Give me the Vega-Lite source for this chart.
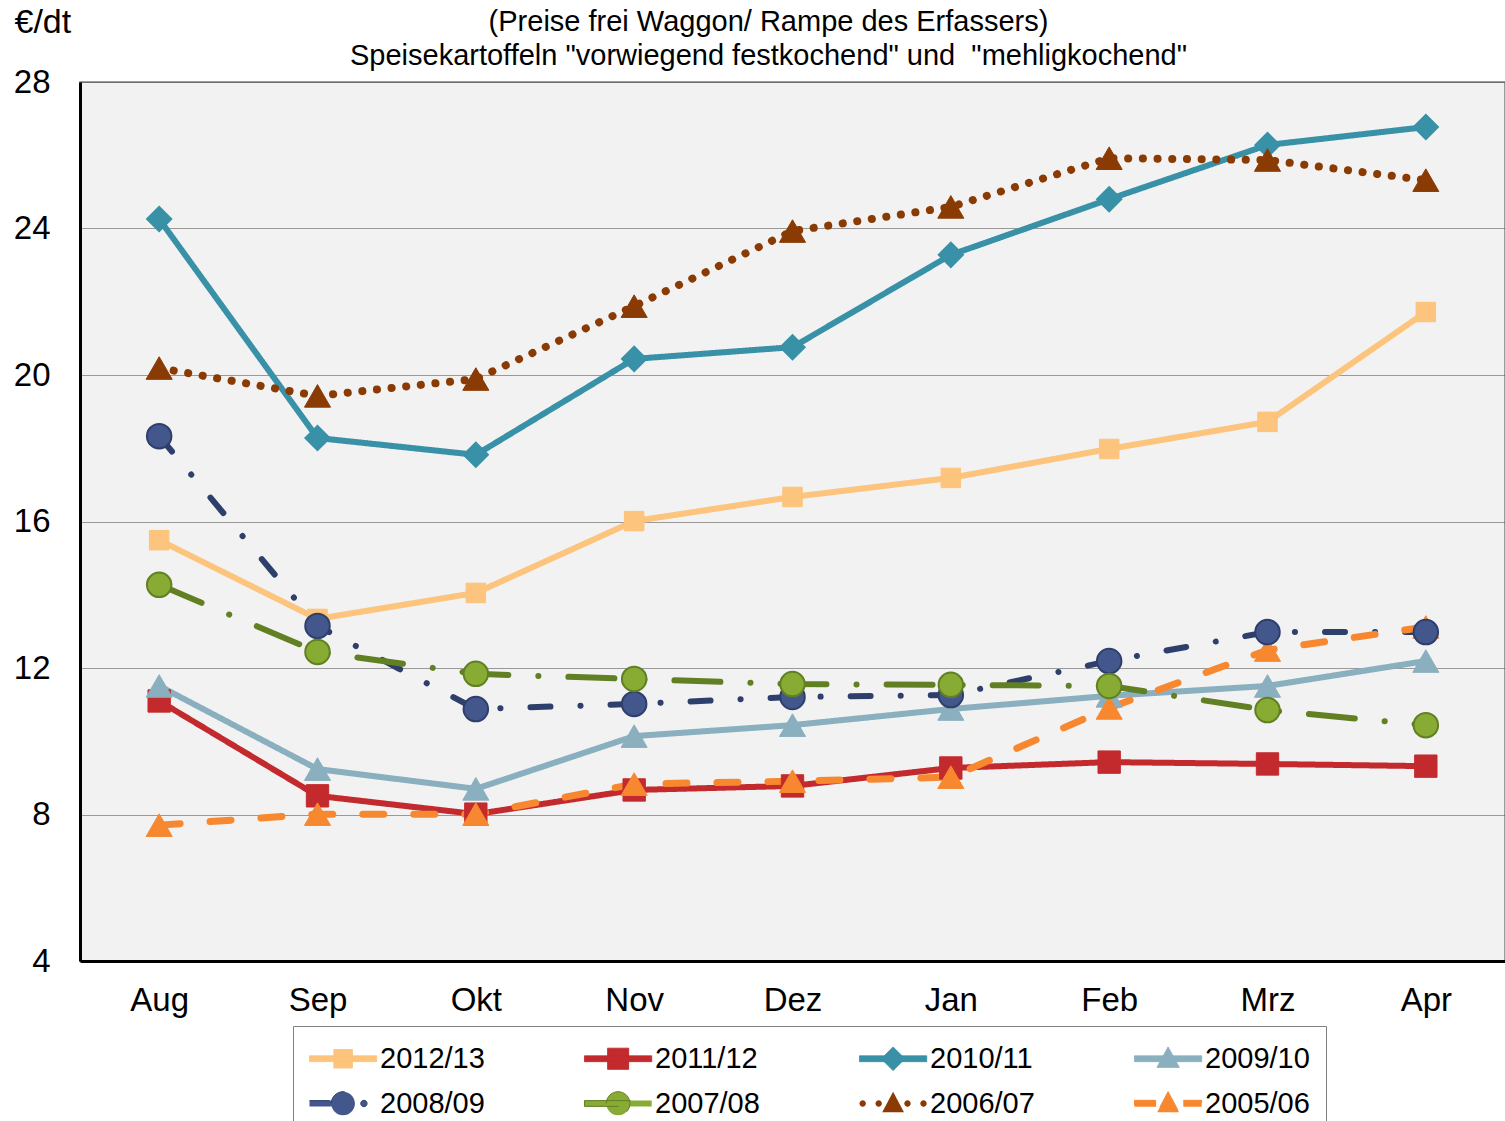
{
  "$schema": "https://vega.github.io/schema/vega-lite/v6.json",
  "width": 1425,
  "height": 879,
  "autosize": {"type": "none"},
  "padding": {"left": 80, "top": 82, "right": 0, "bottom": 160},
  "background": "white",
  "title": {
    "text": ["(Preise frei Waggon/ Rampe des Erfassers)", "Speisekartoffeln \"vorwiegend festkochend\" und \u00a0\"mehligkochend\""],
    "fontSize": 29,
    "font": "Liberation Sans",
    "fontWeight": "normal",
    "color": "black",
    "lineHeight": 34,
    "anchor": "middle",
    "frame": "group",
    "offset": 0,
    "dx": -24,
    "dy": 66
  },
  "config": {
    "view": {"fill": "#F2F2F2", "stroke": "#7F7F7F", "strokeWidth": 1.5},
    "font": "Liberation Sans"
  },
  "data": {
    "values": [
      {"m": "Aug", "s": "2012/13", "v": 15.49}, {"m": "Sep", "s": "2012/13", "v": 13.34}, {"m": "Okt", "s": "2012/13", "v": 14.05},
      {"m": "Nov", "s": "2012/13", "v": 16.01}, {"m": "Dez", "s": "2012/13", "v": 16.67}, {"m": "Jan", "s": "2012/13", "v": 17.19},
      {"m": "Feb", "s": "2012/13", "v": 17.98}, {"m": "Mrz", "s": "2012/13", "v": 18.72}, {"m": "Apr", "s": "2012/13", "v": 21.72},
      {"m": "Aug", "s": "2011/12", "v": 11.10}, {"m": "Sep", "s": "2011/12", "v": 8.51}, {"m": "Okt", "s": "2011/12", "v": 8.01},
      {"m": "Nov", "s": "2011/12", "v": 8.67}, {"m": "Dez", "s": "2011/12", "v": 8.78}, {"m": "Jan", "s": "2011/12", "v": 9.27},
      {"m": "Feb", "s": "2011/12", "v": 9.43}, {"m": "Mrz", "s": "2011/12", "v": 9.38}, {"m": "Apr", "s": "2011/12", "v": 9.32},
      {"m": "Aug", "s": "2010/11", "v": 24.26}, {"m": "Sep", "s": "2010/11", "v": 18.28}, {"m": "Okt", "s": "2010/11", "v": 17.82},
      {"m": "Nov", "s": "2010/11", "v": 20.44}, {"m": "Dez", "s": "2010/11", "v": 20.76}, {"m": "Jan", "s": "2010/11", "v": 23.28},
      {"m": "Feb", "s": "2010/11", "v": 24.80}, {"m": "Mrz", "s": "2010/11", "v": 26.28}, {"m": "Apr", "s": "2010/11", "v": 26.77},
      {"m": "Aug", "s": "2009/10", "v": 11.51}, {"m": "Sep", "s": "2009/10", "v": 9.24}, {"m": "Okt", "s": "2009/10", "v": 8.70},
      {"m": "Nov", "s": "2009/10", "v": 10.14}, {"m": "Dez", "s": "2009/10", "v": 10.44}, {"m": "Jan", "s": "2009/10", "v": 10.88},
      {"m": "Feb", "s": "2009/10", "v": 11.24}, {"m": "Mrz", "s": "2009/10", "v": 11.51}, {"m": "Apr", "s": "2009/10", "v": 12.19},
      {"m": "Aug", "s": "2008/09", "v": 18.33}, {"m": "Sep", "s": "2008/09", "v": 13.15}, {"m": "Okt", "s": "2008/09", "v": 10.88},
      {"m": "Nov", "s": "2008/09", "v": 11.02}, {"m": "Dez", "s": "2008/09", "v": 11.21}, {"m": "Jan", "s": "2008/09", "v": 11.26},
      {"m": "Feb", "s": "2008/09", "v": 12.19}, {"m": "Mrz", "s": "2008/09", "v": 12.98}, {"m": "Apr", "s": "2008/09", "v": 12.98},
      {"m": "Aug", "s": "2007/08", "v": 14.27}, {"m": "Sep", "s": "2007/08", "v": 12.44}, {"m": "Okt", "s": "2007/08", "v": 11.84},
      {"m": "Nov", "s": "2007/08", "v": 11.70}, {"m": "Dez", "s": "2007/08", "v": 11.56}, {"m": "Jan", "s": "2007/08", "v": 11.54},
      {"m": "Feb", "s": "2007/08", "v": 11.51}, {"m": "Mrz", "s": "2007/08", "v": 10.85}, {"m": "Apr", "s": "2007/08", "v": 10.44},
      {"m": "Aug", "s": "2006/07", "v": 20.19}, {"m": "Sep", "s": "2006/07", "v": 19.43}, {"m": "Okt", "s": "2006/07", "v": 19.89},
      {"m": "Nov", "s": "2006/07", "v": 21.88}, {"m": "Dez", "s": "2006/07", "v": 23.93}, {"m": "Jan", "s": "2006/07", "v": 24.59},
      {"m": "Feb", "s": "2006/07", "v": 25.92}, {"m": "Mrz", "s": "2006/07", "v": 25.87}, {"m": "Apr", "s": "2006/07", "v": 25.32},
      {"m": "Aug", "s": "2005/06", "v": 7.71}, {"m": "Sep", "s": "2005/06", "v": 8.01}, {"m": "Okt", "s": "2005/06", "v": 8.01},
      {"m": "Nov", "s": "2005/06", "v": 8.83}, {"m": "Dez", "s": "2005/06", "v": 8.91}, {"m": "Jan", "s": "2005/06", "v": 9.02},
      {"m": "Feb", "s": "2005/06", "v": 10.91}, {"m": "Mrz", "s": "2005/06", "v": 12.49}, {"m": "Apr", "s": "2005/06", "v": 13.12}
    ]
  },
  "encoding": {
    "x": {
      "field": "m",
      "type": "ordinal",
      "sort": ["Aug", "Sep", "Okt", "Nov", "Dez", "Jan", "Feb", "Mrz", "Apr"],
      "scale": {"type": "point", "padding": 0.5},
      "axis": {
        "title": null,
        "labelAngle": 0,
        "labelFontSize": 33,
        "labelFont": "Liberation Sans",
        "labelColor": "black",
        "labelPadding": 23,
        "ticks": false,
        "grid": false,
        "domainColor": "black",
        "domainWidth": 3
      }
    },
    "y": {
      "field": "v",
      "type": "quantitative",
      "scale": {"domain": [4, 28], "nice": false, "zero": false},
      "axis": {
        "values": [4, 8, 12, 16, 20, 24, 28],
        "title": "€/dt",
        "titleAngle": 0,
        "titleAlign": "left",
        "titleBaseline": "middle",
        "titleX": -66,
        "titleY": -60,
        "titleFontSize": 34,
        "titleFontWeight": "normal",
        "titleFont": "Liberation Sans",
        "titleColor": "black",
        "labelFontSize": 33,
        "labelFont": "Liberation Sans",
        "labelColor": "black",
        "labelPadding": 30,
        "ticks": false,
        "grid": true,
        "gridColor": "#404040",
        "gridDash": [1, 1],
        "gridWidth": 1,
        "domainColor": "black",
        "domainWidth": 3
      }
    },
    "stroke": {
      "field": "s",
      "type": "nominal",
      "scale": {
        "domain": ["2012/13", "2011/12", "2010/11", "2009/10", "2008/09", "2007/08", "2006/07", "2005/06"],
        "range": ["#FCC47C", "#C32A2E", "#3891A7", "#8AAFBF", "#2E3F6B", "#617F23", "#8A3B04", "#F7882F"]
      },
      "legend": null
    }
  },
  "layer": [
    {
      "transform": [{"filter": "datum.s !== '2006/07' && datum.s !== '2005/06'"}],
      "mark": {"type": "line", "strokeCap": "round", "strokeJoin": "round", "strokeWidth": 6},
      "encoding": {
        "stroke": {
          "field": "s",
          "type": "nominal",
          "legend": {
            "title": null,
            "orient": "none",
            "legendX": 213,
            "legendY": 944,
            "direction": "horizontal",
            "columns": 4,
            "columnPadding": 97,
            "rowPadding": 13,
            "gridAlign": "all",
            "padding": 16,
            "strokeColor": "#808080",
            "fillColor": "white",
            "labelFontSize": 29,
            "labelFont": "Liberation Sans",
            "labelColor": "black",
            "labelOffset": 38,
            "symbolSize": 1024,
            "symbolStrokeWidth": 1,
            "symbolOpacity": 1,
            "symbolType": {"expr": "datum.value==='2012/13' ? 'M-1,-0.18H3.2V0.18H-1Z M0.52,-0.58H1.68V0.58H0.52Z' : datum.value==='2011/12' ? 'M-1,-0.18H3.2V0.18H-1Z M0.44,-0.66H1.76V0.66H0.44Z' : datum.value==='2010/11' ? 'M-1,-0.18H3.2V0.18H-1Z M1.1,-0.74L1.84,0L1.1,0.74L0.36,0Z' : datum.value==='2009/10' ? 'M-1,-0.18H3.2V0.18H-1Z M1.1,-0.74L1.8,0.54L0.4,0.54Z' : datum.value==='2008/09' ? 'M-1,-0.18H0.5V0.18H-1Z M0.36,0A0.74,0.74,0,1,1,1.84,0A0.74,0.74,0,1,1,0.36,0Z M2.2,0A0.2,0.2,0,1,1,2.6,0A0.2,0.2,0,1,1,2.2,0Z' : datum.value==='2007/08' ? 'M-1,-0.18H3.2V0.18H-1Z M0.36,0A0.74,0.74,0,1,1,1.84,0A0.74,0.74,0,1,1,0.36,0Z' : datum.value==='2006/07' ? 'M-1,0A0.2,0.2,0,1,1,-0.6,0A0.2,0.2,0,1,1,-1,0Z M0,0A0.2,0.2,0,1,1,0.4,0A0.2,0.2,0,1,1,0,0Z M1.8,0A0.2,0.2,0,1,1,2.2,0A0.2,0.2,0,1,1,1.8,0Z M2.8,0A0.2,0.2,0,1,1,3.2,0A0.2,0.2,0,1,1,2.8,0Z M1.1,-0.74L1.78,0.54L0.42,0.54Z' : 'M-1,-0.2H0.35V0.2H-1Z M2.05,-0.2H3.2V0.2H2.05Z M1.1,-0.74L1.78,0.54L0.42,0.54Z'"}
          }
        },
        "strokeDash": {
          "field": "s",
          "type": "nominal",
          "scale": {
            "domain": ["2012/13", "2011/12", "2010/11", "2009/10", "2008/09", "2007/08", "2006/07", "2005/06"],
            "range": [[1, 0], [1, 0], [1, 0], [1, 0], [20, 30, 0.1, 30], [46, 30, 0.1, 30], [0.1, 14.6], [21, 30]]
          },
          "legend": null
        }
      }
    },
    {
      "transform": [{"filter": "datum.s === '2006/07'"}],
      "mark": {"type": "line", "strokeCap": "round", "strokeJoin": "round", "strokeWidth": 8},
      "encoding": {
        "strokeDash": {"field": "s", "type": "nominal", "legend": null}
      }
    },
    {
      "transform": [{"filter": "datum.s === '2005/06'"}],
      "mark": {"type": "line", "strokeCap": "round", "strokeJoin": "round", "strokeWidth": 7},
      "encoding": {
        "strokeDash": {"field": "s", "type": "nominal", "legend": null}
      }
    },
    {
      "transform": [{"filter": "datum.s === '2012/13'"}],
      "mark": {"type": "point", "filled": true, "opacity": 1, "strokeWidth": 1, "shape": "square", "size": 380},
      "encoding": {
        "fill": {
          "field": "s",
          "type": "nominal",
          "scale": {
            "domain": ["2012/13", "2011/12", "2010/11", "2009/10", "2008/09", "2007/08", "2006/07", "2005/06"],
            "range": ["#FCC47C", "#C32A2E", "#3891A7", "#8AAFBF", "#44578D", "#87AB33", "#8A3B04", "#F7882F"]
          },
          "legend": null
        }
      }
    },
    {
      "transform": [{"filter": "datum.s === '2011/12'"}],
      "mark": {"type": "point", "filled": true, "opacity": 1, "strokeWidth": 1, "shape": "square", "size": 500},
      "encoding": {"fill": {"field": "s", "type": "nominal", "legend": null}}
    },
    {
      "transform": [{"filter": "datum.s === '2010/11'"}],
      "mark": {"type": "point", "filled": true, "opacity": 1, "strokeWidth": 1.5, "shape": "diamond", "size": 620},
      "encoding": {"fill": {"field": "s", "type": "nominal", "legend": null}}
    },
    {
      "transform": [{"filter": "datum.s === '2009/10' || datum.s === '2006/07' || datum.s === '2005/06'"}],
      "mark": {"type": "point", "filled": true, "opacity": 1, "strokeWidth": 1, "shape": "triangle-up", "size": 680},
      "encoding": {"fill": {"field": "s", "type": "nominal", "legend": null}}
    },
    {
      "transform": [{"filter": "datum.s === '2008/09' || datum.s === '2007/08'"}],
      "mark": {"type": "point", "filled": true, "opacity": 1, "strokeWidth": 2, "shape": "circle", "size": 600},
      "encoding": {"fill": {"field": "s", "type": "nominal", "legend": null}}
    }
  ]
}
